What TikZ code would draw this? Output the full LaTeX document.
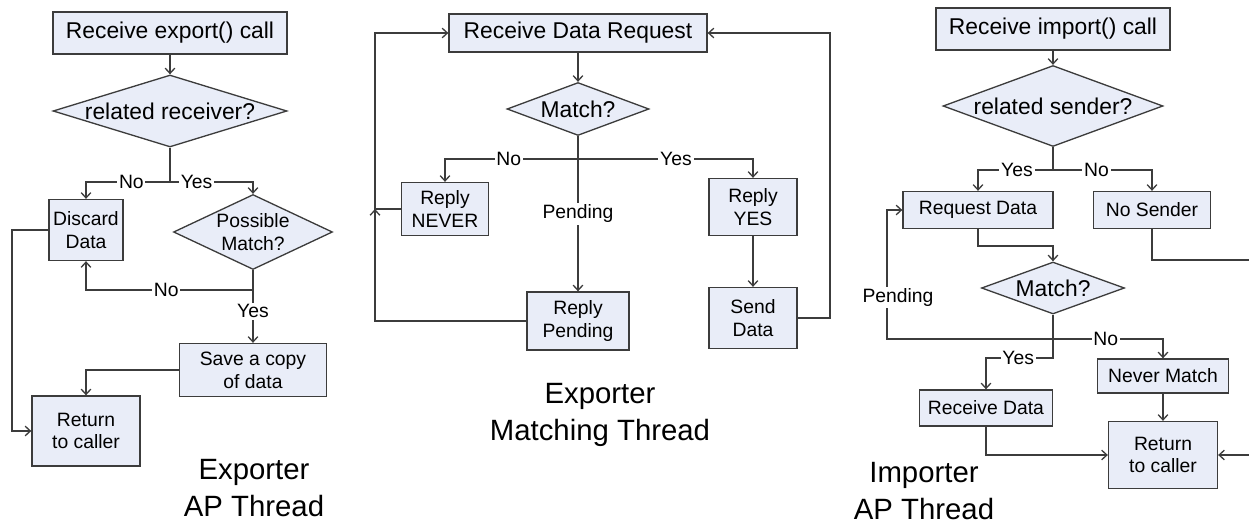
\documentclass[tikz,border=0pt]{standalone}
\usepackage{fontspec}
\setmainfont{Liberation Sans}
\usetikzlibrary{shapes.geometric,arrows.meta}
\definecolor{boxc}{RGB}{233,237,248}
\definecolor{linec}{RGB}{60,60,60}
\newcommand{\bigtxt}{\fontsize{13}{15}\selectfont}
\newcommand{\smalltxt}{\fontsize{11}{13}\selectfont}
\newcommand{\titletxt}{\fontsize{16.7}{20.8}\selectfont}
\begin{document}
\begin{tikzpicture}[x=0.02cm,y=-0.02cm,
  box/.style={draw=linec, line width=0.75pt, fill=boxc, inner sep=0pt, align=center, font=\smalltxt},
  dec/.style={diamond, draw=linec, line width=0.75pt, fill=boxc, inner sep=0pt, align=center, font=\bigtxt},
  flow/.style={draw=linec, line width=0.75pt, -{Straight Barb[length=3pt,width=5.5pt]}},
  lbl/.style={fill=white, inner sep=1pt, font=\smalltxt},
  thread/.style={align=center, font=\titletxt}]
  \useasboundingbox (0,0) rectangle (1249,524);
  \clip (0,0) rectangle (1249,524);

  % exporter AP thread
  \node[box, font=\bigtxt, minimum width=4.68cm, minimum height=0.84cm] (eCall) at (170,33) {Receive export() call};
  \node[dec, aspect=3.25, minimum width=4.68cm, minimum height=1.44cm] (eRel) at (170,111) {related receiver?};
  \node[box, minimum width=1.48cm, minimum height=1.22cm] (eDisc) at (86,230) {Discard\\Data};
  \node[dec, font=\smalltxt, aspect=2.12, minimum width=3.18cm, minimum height=1.5cm] (ePoss) at (253,232) {Possible\\Match?};
  \node[box, minimum width=2.94cm, minimum height=1.06cm] (eSave) at (253,370) {Save a copy\\of data};
  \node[box, minimum width=2.16cm, minimum height=1.4cm] (eRet) at (86,431) {Return\\to caller};
  \node[thread] (eTitle) at (254,488) {Exporter\\AP Thread};
  \coordinate (eSplit) at (170,182);
  \coordinate (eBack) at (253,290);
  \coordinate (eLeft) at (12,230);

  \draw[flow] (eCall) -- (eRel);
  \draw[flow] (eRel.south) -- (eSplit) -| node[lbl,pos=0.23] {No} (eDisc.north);
  \draw[flow] (eSplit) -| node[lbl,pos=0.16] {Yes} (ePoss.north);
  \draw[flow] (ePoss.south) -- (eBack) -| node[lbl,pos=0.26] {No} (eDisc.south);
  \draw[flow] (eBack) -- node[lbl,pos=0.4] {Yes} (eSave.north);
  \draw[flow] (eSave.west) -| (eRet.north);
  \draw[flow] (eDisc.west) -- (eLeft) |- (eRet.west);

  % exporter matching thread
  \node[box, font=\bigtxt, minimum width=5.16cm, minimum height=0.76cm] (mRecv) at (578,33) {Receive Data Request};
  \node[dec, aspect=2.68, minimum width=2.84cm, minimum height=1.06cm] (mMatch) at (578,109) {Match?};
  \node[box, minimum width=1.74cm, minimum height=1.06cm] (mNever) at (445,209) {Reply\\NEVER};
  \node[box, minimum width=1.76cm, minimum height=1.14cm] (mYes) at (753,207) {Reply\\YES};
  \node[box, minimum width=1.76cm, minimum height=1.22cm] (mSend) at (753,318) {Send\\Data};
  \node[box, minimum width=2.04cm, minimum height=1.16cm] (mPend) at (578,321) {Reply\\Pending};
  \node[thread] (mTitle) at (600,415) {Exporter\\Matching Thread};
  \coordinate (mSplit) at (578,159);
  \coordinate (mBack) at (375,209);
  \coordinate (mRight) at (830,318);

  \draw[flow] (mRecv) -- (mMatch);
  \draw[flow] (mMatch) -- node[lbl] {Pending} (mPend);
  \draw[flow] (mSplit) -| node[lbl,pos=0.26] {No} (mNever.north);
  \draw[flow] (mSplit) -| node[lbl,pos=0.28] {Yes} (mYes.north);
  \draw[flow] (mYes) -- (mSend);
  \draw[flow] (mSend.east) -- (mRight) |- (mRecv.east);
  \draw[flow] (mPend.west) -| (mBack);
  \draw[flow] (mNever.west) -- (mBack) |- (mRecv.west);

  % importer AP thread
  \node[box, font=\bigtxt, minimum width=4.68cm, minimum height=0.84cm] (iCall) at (1053,29) {Receive import() call};
  \node[dec, aspect=2.72, minimum width=4.4cm, minimum height=1.62cm] (iRel) at (1053,106) {related sender?};
  \node[box, minimum width=3cm, minimum height=0.74cm] (iReq) at (978,210) {Request Data};
  \node[box, minimum width=2.34cm, minimum height=0.74cm] (iNoS) at (1152,210) {No Sender};
  \node[dec, aspect=2.75, minimum width=2.86cm, minimum height=1.04cm] (iMatch) at (1053,288) {Match?};
  \node[box, minimum width=2.62cm, minimum height=0.68cm] (iNever) at (1163,376) {Never Match};
  \node[box, minimum width=2.66cm, minimum height=0.72cm] (iRecv) at (986,408) {Receive Data};
  \node[box, minimum width=2.18cm, minimum height=1.34cm] (iRet) at (1163,455) {Return\\to caller};
  \node[thread] (iTitle) at (924,491) {Importer\\AP Thread};
  \coordinate (iSplit) at (1053,170);
  \coordinate (iTurn) at (978,246);
  \coordinate (iOut) at (1256,260);
  \coordinate (iNo) at (1053,339);
  \coordinate (iPend) at (887,339);
  \coordinate (iYes) at (1053,358);

  \draw[flow] (iCall) -- (iRel);
  \draw[flow] (iRel.south) -- (iSplit) -| node[lbl,pos=0.24] {Yes} (iReq.north);
  \draw[flow] (iSplit) -| node[lbl,pos=0.22] {No} (iNoS.north);
  \draw[flow] (iReq.south) -- (iTurn) -| (iMatch.north);
  \draw[flow] (iNoS.south) |- (iOut) |- (iRet.east);
  \draw[flow] (iMatch.south) -- (iYes) -| node[lbl,pos=0.26] {Yes} (iRecv.north);
  \draw[flow] (iNo) -| node[lbl,pos=0.24] {No} (iNever.north);
  \draw[flow] (iNo) -- (iPend) |- node[lbl,pos=0.16,xshift=0.22cm] {Pending} (iReq.west);
  \draw[flow] (iNever) -- (iRet);
  \draw[flow] (iRecv.south) |- (iRet.west);
\end{tikzpicture}
\end{document}
